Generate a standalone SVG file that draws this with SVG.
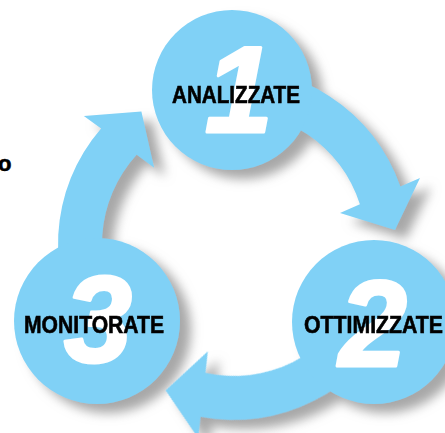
<svg xmlns="http://www.w3.org/2000/svg" width="445" height="433" viewBox="0 0 445 433">
  <defs>
    <filter id="shadow" x="-20%" y="-20%" width="150%" height="150%">
      <feDropShadow dx="11" dy="9" stdDeviation="5.5" flood-color="#8a8a8a" flood-opacity="0.75"/>
    </filter>
    <path id="arrowShape" d="M218.7,68.7 A176,176 0 0 1 400.4,186.6 L420,178 L395,230 L340,213 L359.9,204.3 A132,132 0 0 0 222.5,112.5 Z"/>
  </defs>
  <style>
    .shape { fill: #80d1f6; }
    .num { font-family: "Liberation Sans", Arial, sans-serif; font-weight: bold; font-style: italic; fill: #ffffff; stroke: #ffffff; stroke-width: 3; stroke-linejoin: round; font-size: 122px; text-anchor: middle; }
    .label { font-family: "Liberation Sans Narrow", "Liberation Sans", Arial, sans-serif; font-weight: bold; fill: #000000; stroke: #000000; stroke-width: 0.6; font-size: 24px; }
  </style>
  <rect width="445" height="433" fill="#ffffff"/>
  <text x="-2" y="171" class="label" style="font-size:22px">o</text>
  <g filter="url(#shadow)">
    <g id="connectors">
      <use href="#arrowShape" class="shape"/>
      <use href="#arrowShape" class="shape" transform="rotate(120 234 244)"/>
      <use href="#arrowShape" class="shape" transform="rotate(240 234 244)"/>
    </g>
    <g id="circles">
      <circle cx="232" cy="90" r="80" class="shape"/>
      <circle cx="374" cy="322" r="82" class="shape"/>
      <circle cx="97" cy="321" r="83" class="shape"/>
    </g>
  </g>
  <g id="node1">
    <text x="239" y="132" class="num">1</text>
    <text x="172" y="103" class="label" textLength="128" lengthAdjust="spacingAndGlyphs">ANALIZZATE</text>
  </g>
  <g id="node2">
    <text x="373" y="366" class="num">2</text>
    <text x="304" y="333" class="label" textLength="139" lengthAdjust="spacingAndGlyphs">OTTIMIZZATE</text>
  </g>
  <g id="node3">
    <text x="98" y="362" class="num">3</text>
    <text x="24" y="333" class="label" textLength="140" lengthAdjust="spacingAndGlyphs">MONITORATE</text>
  </g>
</svg>
